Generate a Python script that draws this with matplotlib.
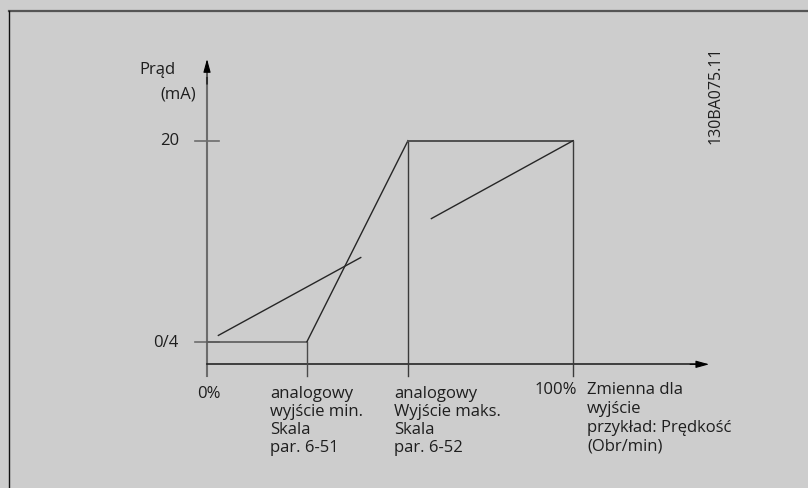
import matplotlib.pyplot as plt
from matplotlib.lines import Line2D

# Skalowanie wyjścia analogowego: oś X w % zmiennej, oś Y w mA
x_ticks = [0, 27.3, 54.9, 100]          # 0 %, par. 6-51, par. 6-52, 100 %
i_low, i_high = 4, 20                   # 0/4 mA i 20 mA

out_x = [0, 27.3, 54.9, 100]
out_y = [4, 4, 20, 20]

# odcinki prostej 0/4-20 mA przy pełnym zakresie 0-100 %
ref1_x, ref1_y = [3.1, 42.0], [4.5, 10.7]
ref2_x, ref2_y = [61.3, 100], [13.8, 20]

y_tick_labels = ['0/4', '20']
x_tick_labels = [
    '0%',
    'analogowy\nwyjście min.\nSkala\npar. 6-51',
    'analogowy\nWyjście maks.\nSkala\npar. 6-52',
    '100%',
]
x_title = 'Zmienna dla\nwyjście\nprzykład: Prędkość\n(Obr/min)'
y_title = ['Prąd', '(mA)']
doc_id = '130BA075.11'

bg = '#cdcdcd'
ink = '#262626'
txt = '#1e1e1e'
axis_grey = '#6c6c6c'
plt.rcParams['font.family'] = ['Open Sans', 'DejaVu Sans']

fig = plt.figure(figsize=(8.08, 4.88), dpi=100, facecolor=bg)
ax = fig.add_axes([0, 0, 1, 1])
ax.set_axis_off()
ax.set_xlim(-56.56, 164.2)
ax.set_ylim(-7.646, 31.2)

# ramka (góra i lewa krawędź)
fig.add_artist(Line2D([0.011, 1], [0.9775, 0.9775], color='#555555', lw=1.6))
fig.add_artist(Line2D([0.011, 0.011], [0, 0.9775], color='#111111', lw=1.0))

x_axis_y = 2.2
tick_bottom = 1.27

# osie ze strzałkami
ax.plot([0, 0], [tick_bottom, 25.0], color=axis_grey, lw=1.5)
ax.annotate('', xy=(0, 26.5), xytext=(0, 24.5),
            arrowprops=dict(arrowstyle='-|>,head_length=0.8,head_width=0.22',
                            color='black', lw=0.8, shrinkA=0, shrinkB=0,
                            mutation_scale=10))
ax.plot([0, 134], [x_axis_y, x_axis_y], color=ink, lw=1.2)
ax.annotate('', xy=(137.2, x_axis_y), xytext=(132, x_axis_y),
            arrowprops=dict(arrowstyle='-|>,head_length=0.8,head_width=0.22',
                            color='black', lw=0.8, shrinkA=0, shrinkB=0,
                            mutation_scale=10))

# kreski podziałki na osi Y
for yv in [i_low, i_high]:
    ax.plot([-3.3, 3.4], [yv, yv], color=axis_grey, lw=1.2)

# linie pomocnicze w dół do osi X
ax.plot([x_ticks[1]] * 2, [i_low, tick_bottom], color='#4a4a4a', lw=1.0)
ax.plot([x_ticks[2]] * 2, [i_high, tick_bottom], color='#3a3a3a', lw=1.0)
ax.plot([x_ticks[3]] * 2, [i_high, tick_bottom], color='#3a3a3a', lw=1.0)

# charakterystyka wyjścia
ax.plot(out_x[:2], out_y[:2], color='#5a5a5a', lw=1.2)
ax.plot(out_x[1:3], out_y[1:3], color=ink, lw=1.0)
ax.plot(out_x[2:], out_y[2:], color='#505050', lw=1.4)

ax.plot(ref1_x, ref1_y, color=ink, lw=1.0)
ax.plot(ref2_x, ref2_y, color=ink, lw=1.0)

fs = 12.0
ax.text(-18.6, 25.63, y_title[0], fontsize=fs, ha='left', va='center', color=txt)
ax.text(-12.8, 23.64, y_title[1], fontsize=fs, ha='left', va='center', color=txt)

ax.text(-7.5, i_high, y_tick_labels[1], fontsize=fs, ha='right', va='center', color=txt)
ax.text(-7.7, i_low - 0.1, y_tick_labels[0], fontsize=fs, ha='right', va='center', color=txt)

label_top = 0.45
ax.text(x_ticks[0] + 0.5, label_top, x_tick_labels[0], fontsize=fs, ha='center', va='top',
        color=txt)
ax.text(x_ticks[1] - 10.1, label_top, x_tick_labels[1], fontsize=fs, ha='left', va='top',
        color=txt, linespacing=1.15)
ax.text(x_ticks[2] - 3.8, label_top, x_tick_labels[2], fontsize=fs, ha='left', va='top',
        color=txt, linespacing=1.15)
ax.text(x_ticks[3] + 1.0, label_top + 0.35, x_tick_labels[3], fontsize=fs, ha='right', va='top',
        color=txt)
ax.text(x_ticks[3] + 3.8, label_top + 0.35, x_title, fontsize=fs, ha='left', va='top',
        color=txt, linespacing=1.24)

ax.text(139.0, 23.64, doc_id, fontsize=11.5, rotation=90, ha='center', va='center',
        color=txt)

fig.savefig('out.png', dpi=100, facecolor=bg)
